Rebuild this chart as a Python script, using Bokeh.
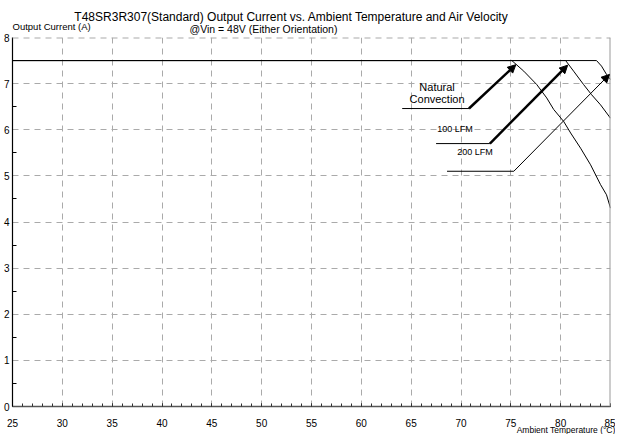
from bokeh.plotting import figure
from bokeh.models import Arrow, NormalHead, Label, Span, FixedTicker
from bokeh.embed import file_html
from bokeh.resources import INLINE

# ---- data ----
temp_nc = [25, 75.1, 76.3, 77.6, 78.6, 79.3, 80.3, 81.0, 82.0, 83.0, 84.0, 84.6, 85.0]
cur_nc = [7.5, 7.5, 7.27, 6.98, 6.69, 6.44, 6.18, 5.93, 5.60, 5.24, 4.81, 4.59, 4.30]
temp_100 = [25, 80.5, 81.3, 82.3, 83.1, 84.0, 85.0]
cur_100 = [7.5, 7.5, 7.27, 6.98, 6.76, 6.54, 6.25]
temp_200 = [25, 83.6, 84.1, 84.6, 85.0]
cur_200 = [7.5, 7.5, 7.38, 7.20, 7.09]

x_ticks = [25, 30, 35, 40, 45, 50, 55, 60, 65, 70, 75, 80, 85]
y_ticks = [0, 1, 2, 3, 4, 5, 6, 7, 8]

# callout annotations (leader line start/end, arrow tip)
callout_x0 = [64.1, 67.5, 68.6]
callout_x1 = [70.8, 72.9, 75.3]
callout_y = [6.46, 5.70, 5.10]
tip_x = [75.5, 80.7, 84.9]
tip_y = [7.41, 7.40, 7.20]
arrow_w = [2.5, 2.5, 1.0]

callout_text = ["Natural", "Convection", "100 LFM", "200 LFM"]
callout_tx = [67.6, 67.6, 69.4, 71.4]
callout_ty = [6.93, 6.67, 6.02, 5.51]
callout_fs = ["11px", "11px", "9px", "9px"]

title1 = "T48SR3R307(Standard)  Output Current vs. Ambient Temperature and Air Velocity"
title2 = "@Vin = 48V (Either Orientation)"
ylabel = "Output Current (A)"
xlabel = "Ambient Temperature (\u00b0C)"

FONT = "Liberation Sans"

p = figure(frame_width=598, frame_height=369, x_range=(25, 85), y_range=(0, 8),
           output_backend="svg", toolbar_location=None,
           min_border_left=0, min_border_right=5, min_border_top=36, min_border_bottom=28)
p.outline_line_color = None
p.background_fill_color = "white"

# axes
p.xaxis.ticker = FixedTicker(ticks=x_ticks, minor_ticks=list(range(25, 86)))
p.yaxis.ticker = FixedTicker(ticks=y_ticks, minor_ticks=[i + 0.5 for i in range(8)])
for ax in (p.xaxis[0], p.yaxis[0]):
    ax.major_label_text_font = FONT
    ax.major_label_text_font_size = "10px"
    ax.major_label_text_color = "black"
    ax.major_tick_out = 0
    ax.minor_tick_out = 0
p.xaxis.axis_line_color = "#555555"
p.xaxis.axis_line_width = 1.5
p.xaxis.major_tick_in = 3
p.xaxis.minor_tick_in = 3
p.xaxis.major_tick_line_color = "#333333"
p.xaxis.minor_tick_line_color = "#333333"
p.xaxis.major_label_standoff = 12
p.yaxis.axis_line_color = "black"
p.yaxis.axis_line_width = 1.2
p.yaxis.major_tick_in = 0
p.yaxis.minor_tick_in = 4
p.yaxis.minor_tick_line_color = "black"
p.yaxis.major_label_standoff = 3

# grid
p.grid.grid_line_color = "#aaaaaa"
p.grid.grid_line_dash = "6 5"
p.grid.grid_line_width = 1

p.add_layout(Span(location=8, dimension="width", line_color="#aaaaaa", line_width=2, line_dash="6 5"))
p.add_layout(Span(location=85, dimension="height", line_color="#999999", line_width=2))

# curves
p.line(temp_nc, cur_nc, line_color="black", line_width=1)
p.line(temp_100, cur_100, line_color="black", line_width=1)
p.line(temp_200, cur_200, line_color="black", line_width=1)

# callouts
p.segment(x0=callout_x0, y0=callout_y, x1=callout_x1, y1=callout_y, line_color="black", line_width=1)
for xs, ys, xe, ye, w in zip(callout_x1, callout_y, tip_x, tip_y, arrow_w):
    p.add_layout(Arrow(x_start=xs, y_start=ys, x_end=xe, y_end=ye, line_width=w, line_color="black",
                       end=NormalHead(size=8, fill_color="black", line_color="black", line_width=1)))
for t, tx, ty, fs in zip(callout_text, callout_tx, callout_ty, callout_fs):
    p.add_layout(Label(x=tx, y=ty, text=t, text_align="center", text_baseline="middle",
                       text_font=FONT, text_font_size=fs, text_color="black"))

# titles and axis labels (placed in side panels so they are not clipped to the frame)
p.add_layout(Label(x=53.19, y=8.455, text=title1, text_align="center", text_baseline="middle",
                   text_font=FONT, text_font_size="12px", text_color="black"), "above")
p.add_layout(Label(x=50.18, y=8.18, text=title2, text_align="center", text_baseline="middle",
                   text_font=FONT, text_font_size="10.5px", text_color="black"), "above")
p.add_layout(Label(x=25.0, y=8.24, text=ylabel, text_align="left", text_baseline="middle",
                   text_font=FONT, text_font_size="9.5px", text_color="black"), "above")
p.add_layout(Label(x=85.5, y=-0.52, text=xlabel, text_align="right", text_baseline="middle",
                   text_font=FONT, text_font_size="8.5px", text_color="black"), "below")

open("out.html", "w").write(file_html(p, INLINE))
